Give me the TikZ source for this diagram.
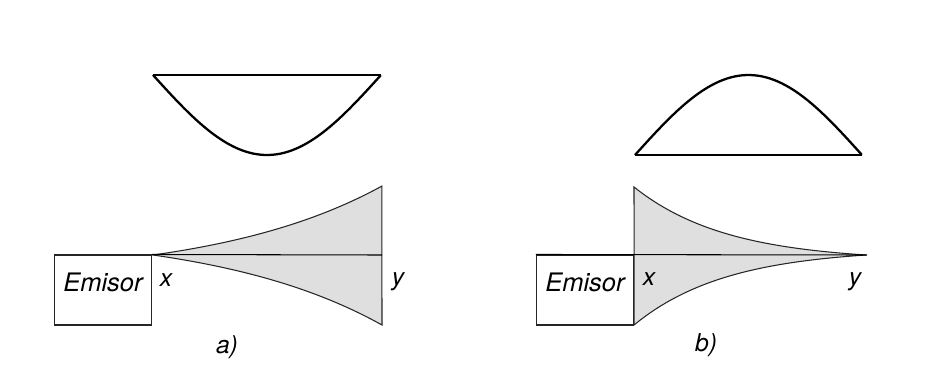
\documentclass[tikz,border=0pt]{standalone}
\usepackage{fontspec}
\setmainfont{TeX Gyre Heros}
\usetikzlibrary{positioning}

\tikzset{
  emisor/.style={draw=black!85,line width=0.6pt,minimum width=1.94cm,minimum height=1.4cm,inner sep=0pt,text height=10pt,text depth=8pt,font=\itshape\fontsize{14.5}{14.5}\selectfont},
  lbl/.style={font=\itshape\fontsize{14}{14}\selectfont,inner sep=0pt},
  horn/.style={fill=gray!25,draw=black!85,line width=0.6pt},
  wave/.style={line width=1.3pt,line join=round}
}

\begin{document}
\begin{tikzpicture}[x=0.02cm,y=-0.02cm]
\useasboundingbox[fill=white] (0,0) rectangle (930,386);
% a) pressure curve
\draw[wave] (153,75) -- (381,75);
\draw[wave,domain=0:1,samples=60,variable=\t] plot ({153+228*\t},{75+80*sin(180*\t)});
% a) horn
\filldraw[horn,variable=\t,samples=60]
  plot[domain=0:1] ({153+229*\t},{255-69*(exp(1.35*\t)-1)/2.857})
  -- plot[domain=1:0] ({153+229*\t},{255+70*(exp(1.35*\t)-1)/2.857}) -- cycle;
\node[emisor] (emA) at (103,290) {Emisor};
\coordinate (endA) at (382,255);
\draw[line width=0.6pt] (emA.north east) -- (endA);
\node[lbl] (xA) at (166,280) {x};
\node[lbl] (yA) at (398,282) {y};
\node[lbl] (capA) at (227,347) {a)};
% b) pressure curve
\draw[wave] (635,155) -- (862,155);
\draw[wave,domain=0:1,samples=60,variable=\t] plot ({635+227*\t},{155-80*sin(180*\t)});
% b) horn
\filldraw[horn,variable=\t,samples=60]
  plot[domain=1:0] ({866-232*\t},{255-68*(exp(2.5*\t)-1)/11.18})
  -- plot[domain=0:1] ({866-232*\t},{255+70*(exp(2.5*\t)-1)/11.18}) -- cycle;
\node[emisor] (emB) at (585,290) {Emisor};
\coordinate (endB) at (867,255);
\draw[line width=0.6pt] (emB.north west) -- (endB);
\node[lbl] (xB) at (649,279) {x};
\node[lbl] (yB) at (855,282) {y};
\node[lbl] (capB) at (706,345) {b)};
\end{tikzpicture}
\end{document}
